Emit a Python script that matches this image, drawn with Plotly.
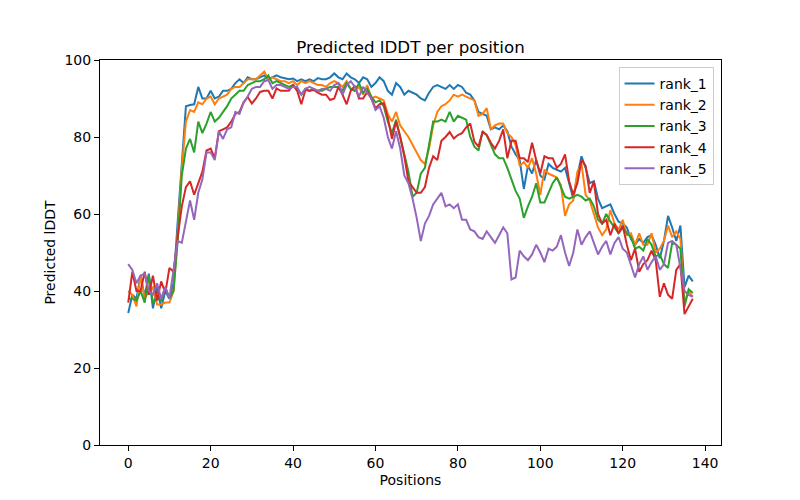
import plotly.graph_objects as go

positions = list(range(138))

rank_1 = [34.3, 39, 38, 44, 38.5, 44.5, 35.5, 41, 35.5, 40, 38, 42,
          58, 74, 88, 88.3, 88.5, 93, 90, 90, 92, 90, 90.5, 92, 92,
          92.5, 94, 95, 94, 95.5, 95, 95, 95.5, 96, 95, 95.5, 96, 95.5,
          95.2, 95, 95.2, 94.5, 95, 94.5, 95, 94.5, 95.3, 95, 95, 95.5, 96.5,
          95.5, 95, 96.5, 95.5, 95, 94, 95.5, 95, 93, 94, 95.5, 94.5, 92,
          91, 94, 93, 91, 92, 91.5, 91, 90, 89.5, 91.5, 93, 93.5, 93,
          92.5, 93.5, 92.5, 93.5, 93, 91.5, 91, 89.5, 86.5, 86, 85.5, 82, 82.5,
          82, 83, 81.5, 77.5, 75.5, 74, 66.5, 72.5, 70.5, 74, 70, 69, 73,
          72, 71.5, 71, 72, 68, 64, 70, 75, 72, 68, 68.5, 64, 61.5,
          62, 62.5, 60, 58, 57.5, 56.5, 53.5, 52, 53.5, 52.5, 54, 54.5, 52,
          48.5, 53, 59.5, 56.5, 53, 57, 41, 44, 42.5]

rank_2 = [40, 39, 36, 44, 38, 40, 41, 36.5, 36.5, 37, 37, 40,
          55, 72, 84, 87, 86.5, 89, 88.5, 90, 90.5, 88.5, 90, 90.5, 91,
          92.5, 93, 93, 94, 95, 95, 95, 96, 97, 95, 95.5, 95, 94.5,
          94.5, 94, 94.5, 93.5, 94.5, 94, 94.5, 94, 93.5, 93.5, 93, 94, 94.5,
          94, 93, 94.5, 92.5, 92, 93, 91, 93.5, 90, 90.5, 90, 89.5, 86,
          84, 86.5, 83, 81.5, 80, 78, 76, 74, 73, 77, 83, 86.5, 88,
          88.5, 89.5, 91, 90.5, 91, 90.5, 90, 89.5, 85.5, 86, 87.5, 82, 83,
          83.5, 83.5, 81, 80, 78, 72.5, 73.5, 72, 74.5, 70.5, 65, 71.5, 70.5,
          70, 69.5, 67.5, 59.5, 62.5, 63.5, 71, 73, 65, 63.5, 60, 56.5, 54.5,
          56, 61, 57.5, 56, 58.5, 54.5, 55, 52, 55, 52, 52, 55, 50,
          51, 53, 57, 54, 55.5, 53.5, 37, 40, 38.5]

rank_3 = [38, 38, 37.5, 40, 37, 44, 37, 38, 37.5, 41, 38, 40,
          53, 70, 77, 79.5, 76, 84, 81, 83.5, 86.5, 84, 85, 86.5, 88,
          90, 91, 92, 92, 93.5, 94, 94.5, 94.5, 95, 96, 94, 94.5, 94,
          93.5, 93, 93.5, 92.5, 91, 92.5, 92, 92.5, 92, 92, 92.5, 93, 93,
          93, 92, 94, 92.5, 92, 94, 91.5, 92.5, 90.5, 89, 89.5, 88, 84,
          81, 84.5, 80, 75.5, 71, 64.5, 65.5, 70.5, 72, 78, 84, 84, 84.5,
          84, 86.5, 84, 85.5, 85, 84.5, 80, 77.5, 76.5, 81.5, 80.5, 78, 75.5,
          74.5, 74.5, 72, 69, 66, 64, 59, 62, 64.5, 68, 63, 63, 65.5,
          68, 69.5, 67, 64.5, 64, 64.5, 65, 64.5, 63.5, 64, 62, 58.5, 57.5,
          60, 58, 56.5, 55, 56.5, 55, 54, 51, 51.5, 50.5, 53.5, 52, 49,
          49.5, 47, 46, 52.5, 52, 51, 36, 40.5, 39.5]

rank_4 = [37, 45, 40, 40, 45, 39, 44, 37.5, 42.5, 39.5, 46, 45,
          54, 62, 67, 68.5, 65, 68, 71, 76.5, 77, 74.5, 81.5, 82, 82.5,
          84, 86, 86.5, 89, 90.4, 88.7, 90, 91.7, 92, 92, 90, 92.6, 92,
          92, 92, 93.5, 92, 88.5, 92.2, 92, 92.2, 91.5, 91, 91, 89.6, 90,
          93, 91, 88.5, 92, 93.3, 90, 90, 91.7, 90, 87.5, 88.5, 88.8, 85,
          79.5, 84, 80, 75, 68.5, 67, 65.5, 65.5, 67, 72, 75, 74, 79,
          80, 81.3, 79.6, 80.5, 81, 82.5, 83.5, 78.8, 77.5, 81.3, 80.5, 78.5, 77,
          79, 82, 74.5, 79, 79, 74.5, 74.5, 73.5, 78.5, 74, 70.5, 75, 74.5,
          74.5, 72, 73, 75.5, 68.5, 65, 68, 74, 72.5, 65.5, 68.5, 60, 57.5,
          58.5, 54.5, 57.5, 55, 57, 52, 48, 51, 45, 47, 48, 50.5, 48,
          38.5, 42, 39, 38, 45.5, 47, 34, 36, 38]

rank_5 = [47, 45.5, 42, 44, 44.5, 40, 39, 42, 38, 41, 38, 45,
          53, 52.5, 58, 63.5, 58.5, 65.5, 69, 76, 76, 74, 81.5, 79.5, 82,
          82.5, 86.5, 86, 89, 90.5, 92.5, 93, 93, 94.5, 94.8, 92.5, 93.5, 93.5,
          93, 92.5, 93, 93, 91, 92.5, 93, 92.5, 92, 92.5, 92.5, 92, 93.5,
          94, 91, 93.5, 94.5, 93, 90.5, 93, 91.5, 90, 87, 88, 85, 80,
          77, 81.5, 77, 70, 68, 64, 59, 53, 57.5, 59.5, 62.5, 64, 65.5,
          62, 62.5, 61.5, 62.5, 58.5, 58.5, 56, 55.5, 54, 53.5, 55.5, 54, 52.5,
          54.5, 56.5, 55, 43, 43.5, 50.5, 49, 48, 49.5, 52, 50, 47.5, 51,
          50.5, 51.5, 54.5, 50, 46.5, 50, 56, 52, 54, 55.5, 52.5, 49.5, 51.5,
          53, 49.5, 52.5, 54, 51, 50, 47, 43.5, 47, 49, 45.5, 47.5, 49,
          45.5, 47, 52.5, 53, 52, 46, 40, 39, 38.5]

series_names = ["rank_1", "rank_2", "rank_3", "rank_4", "rank_5"]
series_values = [rank_1, rank_2, rank_3, rank_4, rank_5]
colors = ["#1f77b4", "#ff7f0e", "#2ca02c", "#d62728", "#9467bd"]

x_ticks = [0, 20, 40, 60, 80, 100, 120, 140]
y_ticks = [0, 20, 40, 60, 80, 100]

fig = go.Figure()
for name, vals, c in zip(series_names, series_values, colors):
    fig.add_trace(go.Scatter(x=positions[:len(vals)], y=vals, mode="lines", name=name,
                             line=dict(color=c, width=2)))

font = "DejaVu Sans"
W, H = 792, 492
fig.update_layout(
    width=W, height=H,
    margin=dict(l=92, r=79, t=52, b=55, autoexpand=False),
    paper_bgcolor="white", plot_bgcolor="white",
    font=dict(family=font, size=14, color="black"),
    title=dict(text="Predicted lDDT per position", x=402.5 / W, xanchor="center",
               y=1 - 39 / H, yanchor="middle", font=dict(family=font, size=16.7, color="black")),
    showlegend=True,
    legend=dict(x=0.988, y=0.982, xanchor="right", yanchor="top",
                bgcolor="rgba(255,255,255,0.8)", bordercolor="#cccccc", borderwidth=1,
                font=dict(family=font, size=14), itemwidth=30, tracegroupgap=0),
)
fig.update_xaxes(range=[-6.85, 143.85], tickvals=x_ticks, ticktext=[str(t) for t in x_ticks],
                 showgrid=False, zeroline=False, showline=True, linecolor="black", linewidth=1,
                 mirror=True, ticks="outside", ticklen=5, tickcolor="black",
                 tickfont=dict(family=font, size=14),
                 title=dict(text="Positions", font=dict(family=font, size=14), standoff=5))
fig.update_yaxes(range=[0, 100], tickvals=y_ticks, ticktext=[str(t) for t in y_ticks],
                 showgrid=False, zeroline=False, showline=True, linecolor="black", linewidth=1,
                 mirror=True, ticks="outside", ticklen=5, tickcolor="black",
                 tickfont=dict(family=font, size=14),
                 title=dict(text="Predicted lDDT", font=dict(family=font, size=14), standoff=5))

fig.write_html("out.html")
